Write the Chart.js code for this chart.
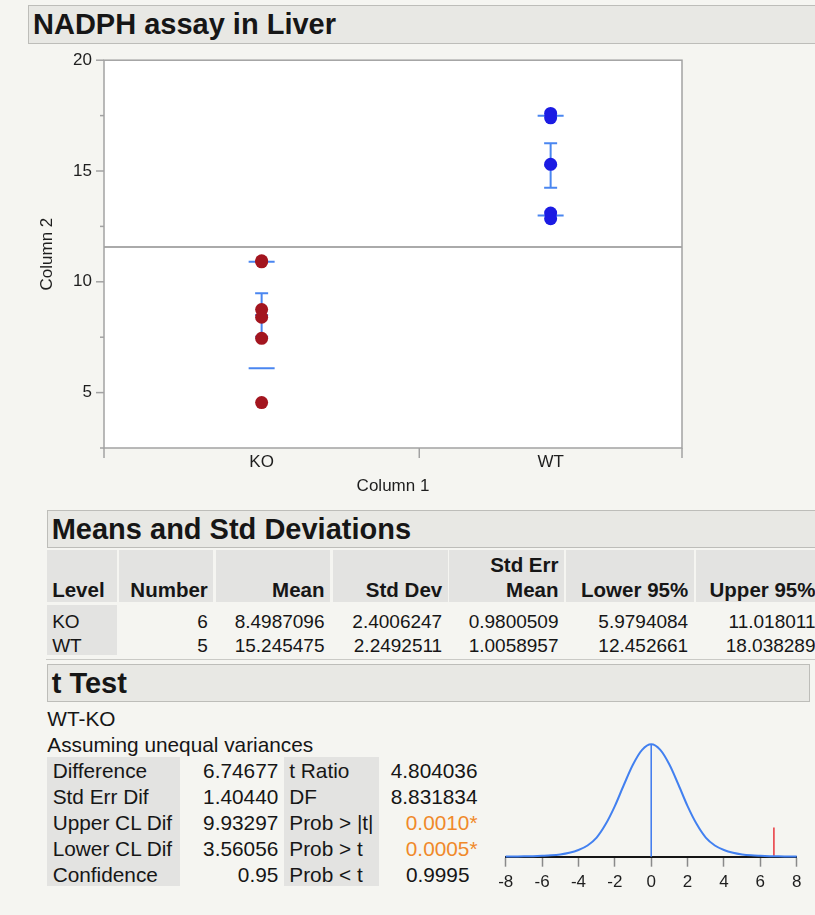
<!DOCTYPE html>
<html>
<head>
<meta charset="utf-8">
<title>NADPH assay in Liver</title>
<script src="https://cdn.jsdelivr.net/npm/chart.js@4.4.1/dist/chart.umd.min.js"></script>
<style>
  body {
    margin: 0;
    width: 815px;
    height: 915px;
    position: relative;
    overflow: hidden;
    background: #f5f5f1;
    color: #161616;
    font-family: "Liberation Sans", Arial, Helvetica, sans-serif;
  }
  .abs { position: absolute; white-space: nowrap; }
  .outline {
    position: absolute;
    box-sizing: border-box;
    background: #e8e8e4;
    border: 1px solid #bdbdb9;
    font-weight: bold;
    font-size: 29px;
    line-height: 36px;
    padding-left: 4px;
    white-space: nowrap;
  }
  .hcell {
    position: absolute;
    box-sizing: border-box;
    background: #e3e3e1;
    font-weight: bold;
    font-size: 20.5px;
    line-height: 25px;
    display: flex;
    flex-direction: column;
    justify-content: flex-end;
    padding: 0 5.5px;
    white-space: nowrap;
  }
  .dcell { position: absolute; box-sizing: border-box; font-size: 19px; line-height: 23.4px; padding: 0 5.5px; white-space: nowrap; }
  .grey { position: absolute; background: #e3e3e1; }
  .tt { position: absolute; font-size: 20.8px; line-height: 26px; white-space: nowrap; box-sizing: border-box; }
  .sig { color: #f0892a; }
  canvas { position: absolute; }
</style>
</head>
<body>

<div class="outline" style="left:28px; top:5px; width:800px; height:38.5px;">NADPH assay in Liver</div>
<canvas id="plot" width="720" height="470" style="left:0; top:38px; width:720px; height:470px;"></canvas>

<div class="outline" style="left:46.7px; top:510px; width:790px; height:37.5px;">Means and Std Deviations</div>
<div id="means"></div>
<div class="abs" style="left:46px; top:659px; width:770px; height:1px; background:#cacac6;"></div>

<div class="outline" style="left:46.7px; top:664px; width:763.3px; height:37.5px;">t Test</div>
<div class="tt" style="left:47.3px; top:705.5px;">WT-KO</div>
<div class="tt" style="left:47.3px; top:731.5px;">Assuming unequal variances</div>
<div id="ttest"></div>
<canvas id="tdist" width="335" height="170" style="left:480px; top:730px; width:335px; height:170px;"></canvas>

<script>
// groups and raw measurements (Column 1 / Column 2)
const groups = ['KO', 'WT'];
const koValues = [10.95, 10.9, 8.75, 8.4, 7.45, 4.55];
const wtValues = [17.6, 17.4, 15.3, 13.1, 12.85];

// Means and Std Deviations report
const counts = [6, 5];
const means = [8.4987096, 15.245475];
const stdDevs = [2.4006247, 2.2492511];
const stdErrMeans = [0.9800509, 1.0058957];
const lower95 = [5.9794084, 12.452661];
const upper95 = [11.018011, 18.038289];

// y axis ticks
const yTicks = [5, 10, 15, 20];
const yMinorTicks = [2.5, 7.5, 12.5, 17.5];

// t Test report
const tLabelsLeft = ['Difference', 'Std Err Dif', 'Upper CL Dif', 'Lower CL Dif', 'Confidence'];
const tValuesLeft = ['6.74677', '1.40440', '9.93297', '3.56056', '0.95'];
const tLabelsRight = ['t Ratio', 'DF', 'Prob > |t|', 'Prob > t', 'Prob < t'];
const tValuesRight = ['4.804036', '8.831834', '0.0010*', '0.0005*', '0.9995'];

// t distribution curve, relative height
const tGrid = [-8, -7.5, -7, -6.5, -6, -5.5, -5, -4.5, -4, -3.5, -3, -2.5, -2, -1.5, -1, -0.5, 0,
               0.5, 1, 1.5, 2, 2.5, 3, 3.5, 4, 4.5, 5, 5.5, 6, 6.5, 7, 7.5, 8];
const tCurve = [0.001, 0.002, 0.003, 0.005, 0.008, 0.012, 0.02, 0.035, 0.06, 0.10, 0.17, 0.29, 0.45, 0.64, 0.82, 0.95, 1.0,
                0.95, 0.82, 0.64, 0.45, 0.29, 0.17, 0.10, 0.06, 0.035, 0.02, 0.012, 0.008, 0.005, 0.003, 0.002, 0.001];
const tAxisTicks = [-8, -6, -4, -2, 0, 2, 4, 6, 8];

const FONT = '"Liberation Sans", Arial, Helvetica, sans-serif';
Chart.defaults.font.family = FONT;
Chart.defaults.color = '#1e1e1e';

const blue = '#4a86f0';

// x positions: each group gets a band as wide as its count
const groupX = [];
const bounds = [0];
let acc = 0;
counts.forEach(n => { groupX.push(acc + n / 2); acc += n; bounds.push(acc); });
const total = acc;
let grandMean = 0;
means.forEach((m, i) => { grandMean += m * counts[i]; });
grandMean /= total;

function seg(ctx, x1, y1, x2, y2) {
  ctx.beginPath(); ctx.moveTo(x1, y1); ctx.lineTo(x2, y2); ctx.stroke();
}

const framePlugin = {
  id: 'frame',
  beforeDraw(chart) {
    const {ctx, chartArea: a} = chart;
    ctx.save();
    ctx.fillStyle = '#ffffff';
    ctx.fillRect(a.left, a.top, a.right - a.left, a.bottom - a.top);
    ctx.restore();
  },
  beforeDatasetsDraw(chart) {
    const {ctx, chartArea: a, scales: {x, y}} = chart;
    ctx.save();
    ctx.strokeStyle = '#8e8e8e';
    ctx.lineWidth = 1.5;
    const gy = y.getPixelForValue(grandMean);
    seg(ctx, a.left, gy, a.right, gy);

    ctx.strokeStyle = '#a2a2a2';
    ctx.strokeRect(a.left, a.top, a.right - a.left, a.bottom - a.top);
    yTicks.forEach(v => { const p = y.getPixelForValue(v); seg(ctx, a.left - 8, p, a.left, p); });
    yMinorTicks.forEach(v => { const p = y.getPixelForValue(v); seg(ctx, a.left - 4, p, a.left, p); });
    bounds.forEach(v => { const p = x.getPixelForValue(v); seg(ctx, p, a.bottom, p, a.bottom + 10); });
    ctx.restore();
  }
};

const lineMark = {pointStyle: 'line', pointBorderColor: blue, pointBorderWidth: 2, pointBackgroundColor: blue};

new Chart(document.getElementById('plot'), {
  type: 'scatter',
  data: {
    datasets: [
      {data: koValues.map(v => ({x: groupX[0], y: v})), pointRadius: 6.5, pointBackgroundColor: '#a3151f', pointBorderWidth: 0},
      {data: wtValues.map(v => ({x: groupX[1], y: v})), pointRadius: 6.5, pointBackgroundColor: '#1b1be3', pointBorderWidth: 0},
      // mean +/- std err bars
      ...groups.map((g, i) => Object.assign({
        data: [{x: groupX[i], y: means[i] - stdErrMeans[i]}, {x: groupX[i], y: means[i] + stdErrMeans[i]}],
        showLine: true, borderColor: blue, borderWidth: 2, pointRadius: 6.5
      }, lineMark)),
      Object.assign({data: groups.map((g, i) => ({x: groupX[i], y: means[i]})), pointRadius: 6.5}, lineMark),
      // std dev lines
      Object.assign({
        data: groups.flatMap((g, i) => [{x: groupX[i], y: means[i] - stdDevs[i]}, {x: groupX[i], y: means[i] + stdDevs[i]}]),
        pointRadius: 13
      }, lineMark)
    ]
  },
  options: {
    responsive: false,
    animation: false,
    devicePixelRatio: 1,
    layout: {padding: {top: 0, right: 38, left: 0, bottom: 0}},
    plugins: {legend: {display: false}, tooltip: {enabled: false}},
    scales: {
      x: {
        type: 'linear', min: 0, max: total,
        afterFit(s) { s.height = 60; },
        afterBuildTicks(s) { s.ticks = groupX.map(v => ({value: v})); },
        ticks: {autoSkip: false, maxRotation: 0, padding: 4, font: {size: 17},
                callback: v => groups[groupX.indexOf(v)] || ''},
        grid: {display: false, drawTicks: false},
        border: {display: false},
        title: {display: true, text: 'Column 1', font: {size: 17}, padding: {top: 0, bottom: 11.5}}
      },
      y: {
        min: 2.5, max: 20,
        afterFit(s) { s.width = 104; },
        afterBuildTicks(s) { s.ticks = yTicks.map(v => ({value: v})); },
        ticks: {padding: 12, font: {size: 17}},
        grid: {display: false, drawTicks: false},
        border: {display: false},
        title: {display: true, text: 'Column 2', font: {size: 17}, padding: {top: 37.3, bottom: 0}}
      }
    }
  },
  plugins: [framePlugin]
});

// Means and Std Deviations table
const colBox = [[46.7, 116.7], [119, 213.3], [216, 330], [332.7, 447.7], [449.3, 564], [566.3, 693.7], [696, 821]];
const headers = ['Level', 'Number', 'Mean', 'Std Dev', 'Std Err<br>Mean', 'Lower 95%', 'Upper 95%'];
const rows = groups.map((g, i) => [g, counts[i], means[i], stdDevs[i], stdErrMeans[i], lower95[i], upper95[i]]);
let html = '';
headers.forEach((h, c) => {
  const [l, r] = colBox[c];
  const align = c === 0 ? 'flex-start' : 'flex-end';
  html += `<div class="hcell" style="left:${l}px;width:${r - l}px;top:550px;height:52px;align-items:${align};text-align:${c === 0 ? 'left' : 'right'}"><div>${h}</div></div>`;
});
html += `<div class="grey" style="left:${colBox[0][0]}px;width:${colBox[0][1] - colBox[0][0]}px;top:605px;height:50px;"></div>`;
rows.forEach((row, r) => {
  const top = [610.3, 633.7][r];
  row.forEach((v, c) => {
    const [l, rr] = colBox[c];
    html += `<div class="dcell" style="left:${l}px;width:${rr - l}px;top:${top}px;text-align:${c === 0 ? 'left' : 'right'}">${v}</div>`;
  });
});
document.getElementById('means').innerHTML = html;

// t Test table
let th = '';
th += '<div class="grey" style="left:47.3px;width:132.7px;top:756.7px;height:129.3px;"></div>';
th += '<div class="grey" style="left:284.3px;width:95px;top:756.7px;height:129.3px;"></div>';
tLabelsLeft.forEach((lab, i) => {
  const top = 758.1 + 25.85 * i;
  const val = tValuesRight[i];
  const sig = val.indexOf('*') >= 0;
  // p-values keep room for the significance star
  const pad = tLabelsRight[i].indexOf('Prob') === 0 && !sig ? 'padding-right:8px;' : '';
  th += `<div class="tt" style="left:52.7px;top:${top}px">${lab}</div>`;
  th += `<div class="tt" style="left:180px;width:98.3px;text-align:right;top:${top}px">${tValuesLeft[i]}</div>`;
  th += `<div class="tt" style="left:289.3px;top:${top}px">${tLabelsRight[i].replace('<', '&lt;').replace('>', '&gt;')}</div>`;
  th += `<div class="tt${sig ? ' sig' : ''}" style="left:380px;width:97.5px;text-align:right;top:${top}px;${pad}">${val}</div>`;
});
document.getElementById('ttest').innerHTML = th;

// t distribution with the observed difference
const diffValue = Number(tValuesLeft[0]);
const peak = Math.max(...tCurve);
new Chart(document.getElementById('tdist'), {
  type: 'scatter',
  data: {
    datasets: [
      {data: tGrid.map((v, i) => ({x: v, y: tCurve[i]})), showLine: true, borderColor: '#4280f0', borderWidth: 2,
       pointRadius: 0, cubicInterpolationMode: 'monotone', clip: false},
      {data: [{x: 0, y: 0}, {x: 0, y: peak}], showLine: true, borderColor: '#3c78ee', borderWidth: 1.5, pointRadius: 0, clip: false},
      {data: [{x: diffValue, y: 0}, {x: diffValue, y: 0.26}], showLine: true, borderColor: '#e8353c', borderWidth: 1.5, pointRadius: 0}
    ]
  },
  options: {
    responsive: false,
    animation: false,
    devicePixelRatio: 1,
    layout: {padding: {left: 25.7, right: 18.3, top: 14.3, bottom: 0}},
    plugins: {legend: {display: false}, tooltip: {enabled: false}},
    scales: {
      x: {
        min: -8, max: 8,
        afterFit(s) { s.height = 43.3; },
        afterBuildTicks(s) { s.ticks = tAxisTicks.map(v => ({value: v})); },
        ticks: {padding: 5.8, font: {size: 17}, autoSkip: false, maxRotation: 0},
        grid: {drawOnChartArea: false, tickLength: 10, tickColor: '#8a8a8a', tickWidth: 1.5},
        border: {color: '#151515', width: 2}
      },
      y: {display: false, min: 0, max: peak}
    }
  }
});
</script>
</body>
</html>
